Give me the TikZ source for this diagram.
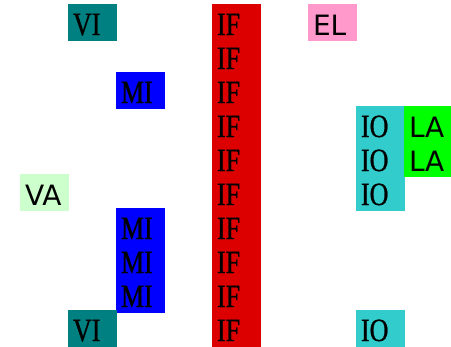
\documentclass[tikz,border=0pt]{standalone}
\usepackage{fontspec}
\setmainfont{Liberation Serif}
\newfontfamily\serfnt[FakeStretch=0.8,FakeBold=0.8]{Liberation Serif}
\newfontfamily\sansfnt{DejaVu Sans}
\definecolor{cTeal}{RGB}{0,128,128}
\definecolor{cBlue}{RGB}{0,0,255}
\definecolor{cRed}{RGB}{221,0,0}
\definecolor{cPink}{RGB}{255,153,204}
\definecolor{cCyan}{RGB}{51,204,204}
\definecolor{cLime}{RGB}{0,255,0}
\definecolor{cPale}{RGB}{204,255,204}
\begin{document}
\begin{tikzpicture}[x=1pt,y=-1pt,
  cell/.style={anchor=north west, minimum width=49.3pt, minimum height=36.5pt,
    inner xsep=5pt, inner ysep=0pt, text width=39.3pt, align=left,
    text height=25pt, text depth=0pt, outer sep=0pt,
    font=\serfnt\fontsize{32.5}{32.5}\selectfont},
  scell/.style={cell, font=\sansfnt\fontsize{28}{28}\selectfont},
  vi/.style={cell, fill=cTeal},
  mi/.style={cell, fill=cBlue},
  iff/.style={cell, fill=cRed},
  io/.style={cell, fill=cCyan},
  el/.style={scell, fill=cPink},
  la/.style={scell, fill=cLime},
  va/.style={scell, fill=cPale}]
\useasboundingbox (0,0) rectangle (451,347);
% column lefts: 20 + 48k ; row tops: 4.3 + 34 r
\foreach \r in {0,...,9}{
  \node[iff] (if\r) at (212,4.3+34*\r) {IF};
}
\node[vi] (vitop) at (68,4.3) {VI};
\node[el] (el) at (308,4.3) {EL};
\node[mi] (mitop) at (116,72.3) {MI};
\node[io] (io3) at (356,106.3) {IO};
\node[io] (io4) at (356,140.3) {IO};
\node[io] (io5) at (356,174.3) {IO};
\node[la] (la3) at (404,106.3) {LA};
\node[la] (la4) at (404,140.3) {LA};
\node[va] (va) at (20,174.3) {VA};
\node[mi] (mi6) at (116,208.3) {MI};
\node[mi] (mi7) at (116,242.3) {MI};
\node[mi] (mi8) at (116,276.3) {MI};
\node[vi] (vibot) at (68,310.3) {VI};
\node[io] (io9) at (356,310.3) {IO};
\end{tikzpicture}
\end{document}
